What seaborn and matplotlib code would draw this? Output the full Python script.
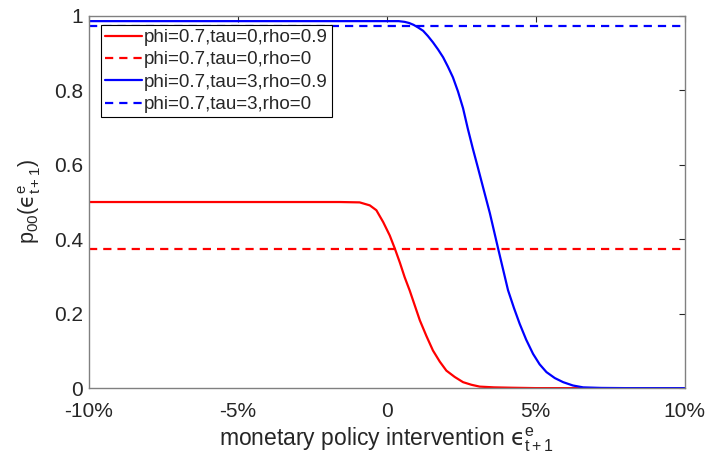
import numpy as np
import pandas as pd
import seaborn as sns
import matplotlib.pyplot as plt

sns.set_style('white')
plt.rcParams['font.family'] = ['Liberation Sans', 'DejaVu Sans']
plt.rcParams['mathtext.fontset'] = 'custom'
plt.rcParams['mathtext.rm'] = 'Liberation Sans'
plt.rcParams['mathtext.it'] = 'Liberation Sans'
plt.rcParams['mathtext.sf'] = 'DejaVu Sans'
plt.rcParams['mathtext.default'] = 'regular'

# values (x in %, y = p00)
red_x = [-10, -4, -1.58, -0.91, -0.57, -0.35, -0.12, 0.1, 0.27, 0.44, 0.6, 0.77, 0.94,
         1.11, 1.33, 1.55, 1.78, 2.0, 2.28, 2.56, 2.84, 3.12, 3.6, 4.2, 5, 10]
red_y = [0.5, 0.5, 0.5, 0.499, 0.491, 0.478, 0.446, 0.41, 0.375, 0.337, 0.298, 0.262, 0.222,
         0.182, 0.14, 0.101, 0.071, 0.047, 0.03, 0.016, 0.009, 0.004, 0.002, 0.001, 0.0, 0.0]
blue_x = [-10, -2, 0.1, 0.4, 0.6, 0.75, 0.9, 1.05, 1.22, 1.38, 1.55, 1.72, 1.89, 2.05, 2.22,
          2.39, 2.56, 2.72, 2.89, 3.06, 3.23, 3.46, 3.74, 4.07, 4.27, 4.46, 4.68, 4.91, 5.13,
          5.36, 5.64, 5.92, 6.25, 6.59, 7.2, 8, 10]
blue_y = [0.986, 0.986, 0.986, 0.986, 0.984, 0.981, 0.976, 0.969, 0.96, 0.946, 0.929, 0.91,
          0.889, 0.864, 0.835, 0.797, 0.752, 0.697, 0.643, 0.592, 0.54, 0.47, 0.374, 0.263,
          0.215, 0.173, 0.13, 0.092, 0.064, 0.043, 0.027, 0.016, 0.007, 0.002, 0.0005, 0.0, 0.0]
red_flat = 0.373
blue_flat = 0.973
labels = ['phi=0.7,tau=0,rho=0.9', 'phi=0.7,tau=0,rho=0',
          'phi=0.7,tau=3,rho=0.9', 'phi=0.7,tau=3,rho=0']

fig = plt.figure(figsize=(7.11, 4.55), dpi=100)
ax = fig.add_axes([0.125, 0.147, 0.838, 0.818])

dash = (0, (3.7, 2.7))
sns.lineplot(x=red_x, y=red_y, color='#ff0000', lw=1.6, ax=ax, label=labels[0])
sns.lineplot(x=[-10, 10], y=[red_flat, red_flat], color='#ff0000', lw=1.6, ax=ax,
             label=labels[1], linestyle=dash)
sns.lineplot(x=blue_x, y=blue_y, color='#0000ff', lw=1.6, ax=ax, label=labels[2])
sns.lineplot(x=[-10, 10], y=[blue_flat, blue_flat], color='#0000ff', lw=1.6, ax=ax,
             label=labels[3], linestyle=dash)

ax.set_xlim(-10, 10)
ax.set_ylim(0, 1)
ax.set_xticks([-10, -5, 0, 5, 10])
ax.set_xticklabels(['-10%', '-5%', '0', '5%', '10%'])
ax.set_yticks([0, 0.2, 0.4, 0.6, 0.8, 1])
ax.set_yticklabels(['0', '0.2', '0.4', '0.6', '0.8', '1'])
ax.tick_params(direction='in', length=4, width=0.8, top=True, right=True,
               labelsize=15, colors='#262626')
ax.tick_params(axis='x', pad=10)
ax.tick_params(axis='y', pad=4)
for s in ax.spines.values():
    s.set_color('#808080')
    s.set_linewidth(1.0)

# lunate epsilon as in the reference
eps = '$\\mathsf{\u03f5}^{e}_{t+1}$'
ax.set_xlabel('monetary policy intervention ' + eps, fontsize=16.5, color='#262626', labelpad=3)
ax.set_ylabel(r'p$_{00}$(' + eps + ')', fontsize=15.5, color='#262626', labelpad=8)

leg = ax.legend(loc='upper left', bbox_to_anchor=(0.02, 0.975), fontsize=13.5,
                frameon=True, fancybox=False, edgecolor='black', framealpha=1,
                borderpad=0.2, labelspacing=0.28, handlelength=2.0, handletextpad=0.12,
                borderaxespad=0)
leg.get_frame().set_linewidth(0.8)

fig.savefig('out.png', dpi=100)
